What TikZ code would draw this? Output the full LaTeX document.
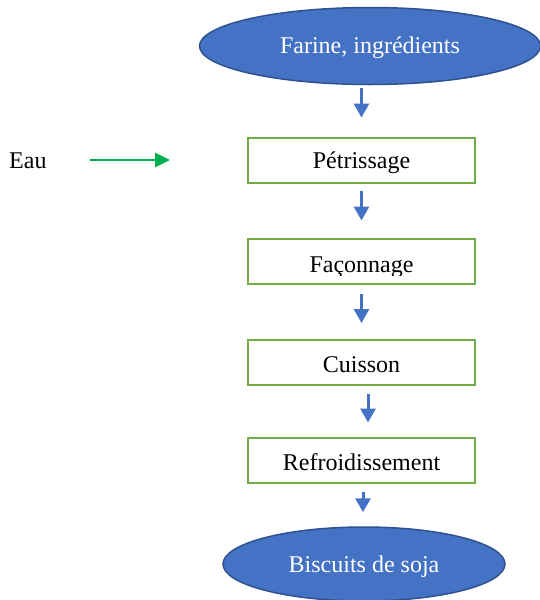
\documentclass[tikz,border=0pt]{standalone}
\usepackage{fontspec}
\setmainfont{Liberation Serif}
\usetikzlibrary{shapes.geometric,arrows.meta}
\definecolor{accentblue}{HTML}{4472C4}
\definecolor{edgeblue}{HTML}{2F528F}
\definecolor{boxgreen}{HTML}{70AD47}
\definecolor{arrowgreen}{HTML}{00B050}
\begin{document}
\begin{tikzpicture}[x=1pt,y=-1pt,
  labelfont/.style={font=\fontsize{24}{28}\selectfont},
  term/.style={ellipse, draw=edgeblue, line width=1.5pt, fill=accentblue,
    text=white, labelfont, inner sep=0pt, text depth=0pt},
  stepbox/.style={rectangle, draw=boxgreen, line width=2pt, fill=white,
    minimum width=227pt, minimum height=45pt, inner sep=0pt, labelfont,
    text depth=0pt},
  flow/.style={draw=accentblue, line width=3pt,
    -{Triangle[length=14pt,width=15pt]}},
  inflow/.style={draw=arrowgreen, line width=2.6pt,
    -{Triangle[length=15pt,width=14pt]}},
]
\useasboundingbox (0,0) rectangle (540,600);

% start and end of the process
\node[term, minimum width=341pt, minimum height=77pt, text height=14pt]
  (start) at (370,46) {Farine, ingrédients};
\node[term, minimum width=282pt, minimum height=74pt, text height=16pt]
  (finish) at (364,564) {Biscuits de soja};

% process steps
\node[stepbox, text height=16pt] (petr) at (361.5,160) {Pétrissage};
\node[stepbox] (faco) at (361.5,261) {};
\begin{scope}
  \clip (faco.north west) rectangle ([yshift=9pt]faco.south east);
  \node[labelfont, anchor=base, inner sep=0pt] (facotext) at (361.5,272) {Façonnage};
\end{scope}
\node[stepbox, text height=19pt] (cuis) at (361.5,362.5) {Cuisson};
\node[stepbox, text height=20pt] (refr) at (361.5,460) {Refroidissement};

% water input
\node[labelfont, anchor=base west, inner sep=0pt] (eau) at (9,168) {Eau};
\coordinate (waterend) at (170,160);
\draw[inflow, shorten <=43pt] (eau.east |- waterend) -- (waterend);

% flow arrows
\draw[flow, shorten <=3pt, shorten >=19pt] (petr.north |- start.south) -- (petr.north);
\draw[flow, shorten <=7pt, shorten >=17pt] (petr.south) -- (faco.north);
\draw[flow, shorten <=9pt, shorten >=16pt] (faco.south) -- (cuis.north);
\draw[flow, shorten <=8pt, shorten >=14pt] ([xshift=6.5pt]cuis.south) -- ([xshift=6.5pt]refr.north);
\draw[flow, shorten <=8pt, shorten >=14pt] ([xshift=1.5pt]refr.south) -- ([xshift=1.5pt]refr.south |- finish.north);
\end{tikzpicture}
\end{document}
